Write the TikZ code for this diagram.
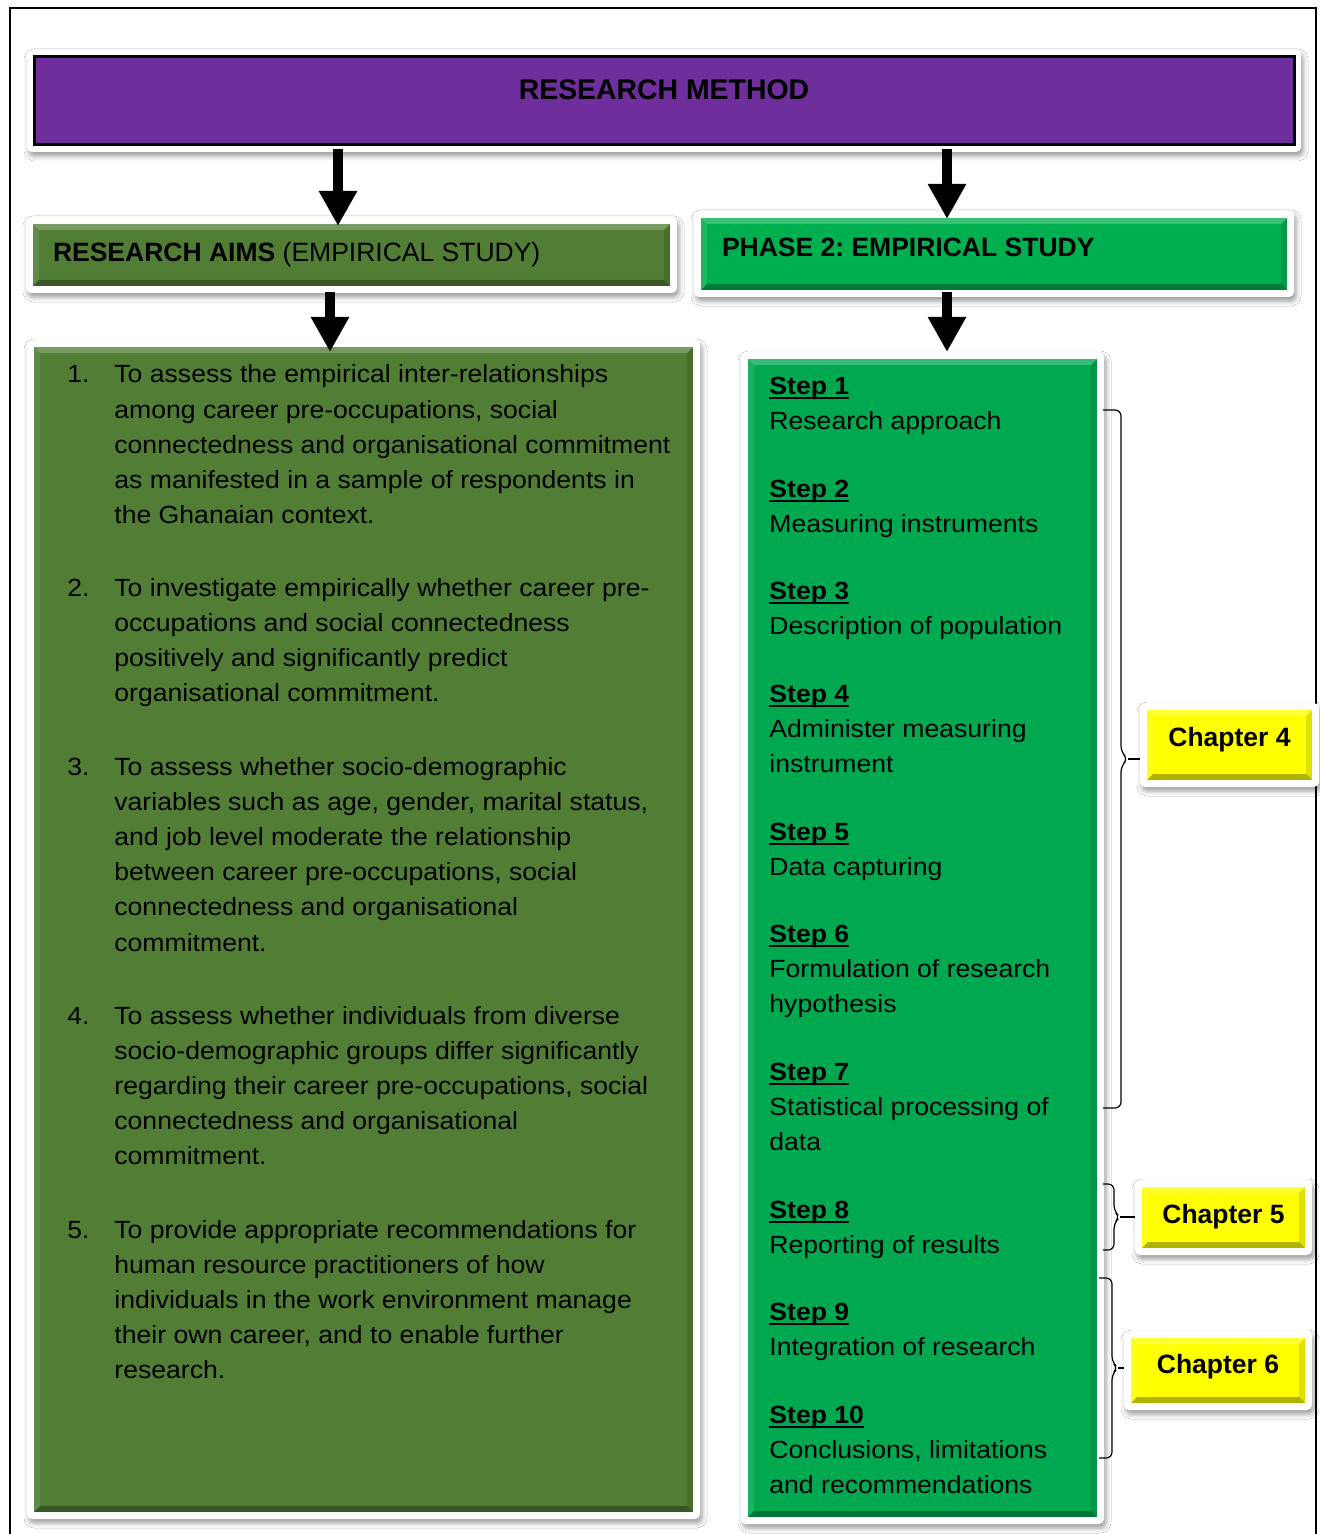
\documentclass[tikz,border=0pt]{standalone}
\usepackage{fontspec}
\setmainfont{Liberation Sans}
\newfontfamily\bodyfont{Liberation Sans}[FakeStretch=1.07]
\usetikzlibrary{arrows.meta,backgrounds,shadows.blur}
\frenchspacing

\definecolor{methodpurple}{HTML}{6E2E9C}
\definecolor{aimsgreen}{HTML}{517E34}
\definecolor{stepgreen}{HTML}{00A94F}
\definecolor{phasegreen}{HTML}{00B050}
\definecolor{chapyellow}{HTML}{FFFF00}

% bold, underlined step label with a heavier rule than \underline
\newcommand\steplabel[1]{\sbox0{\bfseries #1}\rlap{\rule[-2.6pt]{\wd0}{1pt}}\usebox0}

\begin{document}
\begin{tikzpicture}[x=0.5pt,y=-0.5pt,
  box/.style={rectangle, inner sep=0pt, outer sep=0pt, fill=#1, text=black},
  bevel/.style={path picture={
    \path (path picture bounding box.south west) coordinate (bsw)
          (path picture bounding box.north east) coordinate (bne);
    \fill[black,opacity=.30] (bsw) -- (bsw -| bne) -- ([shift={(-3pt,3pt)}]bsw -| bne) -- ([shift={(3pt,3pt)}]bsw) -- cycle;
    \fill[black,opacity=.12] (bsw -| bne) -- (bne) -- ([shift={(-3pt,-3pt)}]bne) -- ([shift={(-3pt,3pt)}]bsw -| bne) -- cycle;
    \fill[white,opacity=.22] (bsw |- bne) -- (bne) -- ([shift={(-3pt,-3pt)}]bne) -- ([shift={(3pt,-3pt)}]bsw |- bne) -- cycle;
    \fill[white,opacity=.10] (bsw) -- (bsw |- bne) -- ([shift={(3pt,-3pt)}]bsw |- bne) -- ([shift={(3pt,3pt)}]bsw) -- cycle;
  }},
  frame/.style={fill=white, rounded corners=2.5pt,
    blur shadow={shadow xshift=1pt, shadow yshift=-2pt, shadow blur radius=2.5pt, shadow opacity=40}},
  bigarrow/.style={line width=5pt, -{Triangle[width=18pt,length=17.5pt]}},
  bracket/.style={line width=0.6pt, rounded corners=3pt},
  headfont/.style={font=\fontsize{13.25pt}{16pt}\selectfont},
  aimtext/.style={anchor=base west, inner sep=0pt, font=\bodyfont\fontsize{12.43pt}{17.6pt}\selectfont},
  steptext/.style={anchor=base west, inner sep=0pt, font=\bodyfont\fontsize{12.43pt}{17.5pt}\selectfont},
]
\useasboundingbox (0,0) rectangle (1319,1534);

% ---- boxes -------------------------------------------------------------
\node[box=methodpurple, draw=black, line width=1.5pt, minimum width=630pt, minimum height=44pt,
      font=\fontsize{14.2pt}{16pt}\selectfont\bfseries] (method) at (664,101)
  {\raisebox{11.5pt}{RESEARCH METHOD}};

\node[box=aimsgreen, bevel, minimum width=318.5pt, minimum height=31pt, headfont] (aimsHead) at (351.5,255)
  {\makebox[298.5pt][l]{\raisebox{3.5pt}{\textbf{RESEARCH AIMS} (EMPIRICAL STUDY)}}};

\node[box=phasegreen, bevel, minimum width=293pt, minimum height=36pt, headfont] (phaseHead) at (994,254)
  {\makebox[272pt][l]{\raisebox{7pt}{\textbf{PHASE 2: EMPIRICAL STUDY}}}};

\node[box=aimsgreen, bevel, minimum width=329.5pt, minimum height=582.5pt] (aimsBox) at (363.5,929.5) {};
\node[box=stepgreen, bevel, minimum width=174.5pt, minimum height=579pt] (stepsBox) at (922.5,938) {};

\node[box=chapyellow, bevel, minimum width=82.5pt, minimum height=35pt, headfont] (ch4) at (1229.5,745)
  {\raisebox{8pt}{\textbf{Chapter 4}}};
\node[box=chapyellow, bevel, minimum width=81.5pt, minimum height=30.5pt, headfont] (ch5) at (1223.5,1217.5)
  {\raisebox{3.7pt}{\textbf{Chapter 5}}};
\node[box=chapyellow, bevel, minimum width=87pt, minimum height=32.5pt, headfont] (ch6) at (1218,1370.5)
  {\raisebox{6.7pt}{\textbf{Chapter 6}}};

% ---- white raised frames and the outer border, behind everything ---------
\begin{scope}[on background layer]
  \fill[white] (0,0) rectangle (1319,1534);
  \draw[line width=1pt] (10,1545) -- (10,8) -- (1316,8) -- (1316,1545);
  \foreach \b in {method,aimsHead,phaseHead,aimsBox,stepsBox,ch4,ch5,ch6}
    \path[frame] ([shift={(-3.5pt,3.5pt)}]\b.north west) rectangle ([shift={(3.5pt,-3.5pt)}]\b.south east);
\end{scope}

% ---- arrows ------------------------------------------------------------
\coordinate (leftA) at (338,0);
\coordinate (leftB) at (330,0);
\coordinate (rightA) at (947,0);
\draw[bigarrow, shorten <=2pt, shorten >=-1pt] (method.south -| leftA) -- (aimsHead.north -| leftA);
\draw[bigarrow, shorten <=2pt, shorten >=-0.5pt] (method.south -| rightA) -- (phaseHead.north -| rightA);
\draw[bigarrow, shorten <=3pt, shorten >=-2.5pt] (aimsHead.south -| leftB) -- (aimsBox.north -| leftB);
\draw[bigarrow, shorten <=1pt, shorten >=3.5pt] (phaseHead.south -| rightA) -- (stepsBox.north -| rightA);

% ---- research aims -----------------------------------------------------
\node[aimtext] (aim1) at (67,383) {\begin{tabular}[t]{@{}p{23.5pt}@{}l@{}}
1. & To assess the empirical inter-relationships\\
   & among career pre-occupations, social\\
   & connectedness and organisational commitment\\
   & as manifested in a sample of respondents in\\
   & the Ghanaian context.\end{tabular}};
\node[aimtext] (aim2) at (67,596) {\begin{tabular}[t]{@{}p{23.5pt}@{}l@{}}
2. & To investigate empirically whether career pre-\\
   & occupations and social connectedness\\
   & positively and significantly predict\\
   & organisational commitment.\end{tabular}};
\node[aimtext] (aim3) at (67,775) {\begin{tabular}[t]{@{}p{23.5pt}@{}l@{}}
3. & To assess whether socio-demographic\\
   & variables such as age, gender, marital status,\\
   & and job level moderate the relationship\\
   & between career pre-occupations, social\\
   & connectedness and organisational\\
   & commitment.\end{tabular}};
\node[aimtext] (aim4) at (67,1024) {\begin{tabular}[t]{@{}p{23.5pt}@{}l@{}}
4. & To assess whether individuals from diverse\\
   & socio-demographic groups differ significantly\\
   & regarding their career pre-occupations, social\\
   & connectedness and organisational\\
   & commitment.\end{tabular}};
\node[aimtext] (aim5) at (67,1238) {\begin{tabular}[t]{@{}p{23.5pt}@{}l@{}}
5. & To provide appropriate recommendations for\\
   & human resource practitioners of how\\
   & individuals in the work environment manage\\
   & their own career, and to enable further\\
   & research.\end{tabular}};

% ---- steps -------------------------------------------------------------
\node[steptext] (step1) at (769,394) {\begin{tabular}[t]{@{}l@{}}\steplabel{Step 1}\\Research approach\end{tabular}};
\node[steptext] (step2) at (769,497) {\begin{tabular}[t]{@{}l@{}}\steplabel{Step 2}\\Measuring instruments\end{tabular}};
\node[steptext] (step3) at (769,599) {\begin{tabular}[t]{@{}l@{}}\steplabel{Step 3}\\Description of population\end{tabular}};
\node[steptext] (step4) at (769,702) {\begin{tabular}[t]{@{}l@{}}\steplabel{Step 4}\\Administer measuring\\instrument\end{tabular}};
\node[steptext] (step5) at (769,840) {\begin{tabular}[t]{@{}l@{}}\steplabel{Step 5}\\Data capturing\end{tabular}};
\node[steptext] (step6) at (769,942) {\begin{tabular}[t]{@{}l@{}}\steplabel{Step 6}\\Formulation of research\\hypothesis\end{tabular}};
\node[steptext] (step7) at (769,1080) {\begin{tabular}[t]{@{}l@{}}\steplabel{Step 7}\\Statistical processing of\\data\end{tabular}};
\node[steptext] (step8) at (769,1218) {\begin{tabular}[t]{@{}l@{}}\steplabel{Step 8}\\Reporting of results\end{tabular}};
\node[steptext] (step9) at (769,1320) {\begin{tabular}[t]{@{}l@{}}\steplabel{Step 9}\\Integration of research\end{tabular}};
\node[steptext] (step10) at (769,1423) {\begin{tabular}[t]{@{}l@{}}\steplabel{Step 10}\\Conclusions, limitations\\and recommendations\end{tabular}};

% ---- braces grouping steps into chapters --------------------------------
% chapter 4: steps 1-7
\coordinate (b4t) at (1103,410);  \coordinate (b4b) at (1103,1108); \coordinate (t4) at (1128,759);
\draw[bracket] (b4t) -- (1121,410) -- (1121,752) -- (t4) -- (1121,766) -- (1121,1108) -- (b4b);
\draw[line width=0.6pt] (t4) -- ([xshift=-3.5pt]ch4.west |- t4);
% chapter 5: step 8
\coordinate (b5t) at (1103,1184); \coordinate (b5b) at (1103,1250); \coordinate (t5) at (1120,1217);
\draw[bracket] (b5t) -- (1114,1184) -- (1114,1211) -- (t5) -- (1114,1223) -- (1114,1250) -- (b5b);
\draw[line width=0.6pt] (t5) -- ([xshift=-3.5pt]ch5.west |- t5);
% chapter 6: steps 9-10
\coordinate (b6t) at (1099,1278); \coordinate (b6b) at (1099,1458); \coordinate (t6) at (1118,1368);
\draw[bracket] (b6t) -- (1112,1278) -- (1112,1362) -- (t6) -- (1112,1374) -- (1112,1458) -- (b6b);
\draw[line width=0.6pt] (t6) -- ([xshift=-3.5pt]ch6.west |- t6);

\end{tikzpicture}
\end{document}
